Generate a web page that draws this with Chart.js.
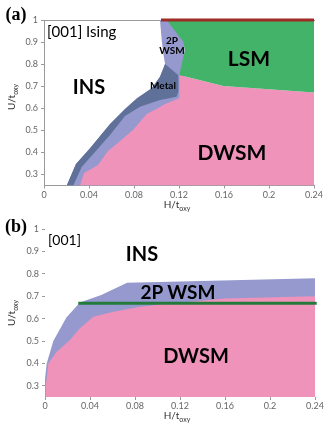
<!DOCTYPE html>
<html><head><meta charset="utf-8">
<script src="https://cdn.jsdelivr.net/npm/chart.js@4/dist/chart.umd.min.js"></script>
<style>
html,body{margin:0;padding:0;background:#fff;}
#wrap{position:relative;width:332px;height:425px;overflow:hidden;font-family:Lato,sans-serif;}
canvas{position:absolute;left:0;}
.lb{position:absolute;transform:translate(-50%,-50%);white-space:nowrap;color:#000;line-height:1;}
.lt{position:absolute;transform:translate(0,-50%);white-space:nowrap;color:#000;line-height:1;}
.b{font-weight:700;}
.pan{font-family:'Liberation Serif',serif;font-weight:700;font-size:18px;}
.ax{font-size:10px;color:#333;}
.ax sub{font-size:7px;vertical-align:-3px;}
.rot{transform:translate(-50%,-50%) rotate(-90deg);}
</style></head>
<body><div id="wrap">
<canvas id="cA" width="332" height="212" style="top:0"></canvas>
<canvas id="cB" width="332" height="213" style="top:212px"></canvas>

<div class="lb pan" style="left:16px;top:14px">(a)</div>
<div class="lt" style="left:47px;top:31px;font-size:15px">[001] Ising</div>
<div class="lb b" style="left:89px;top:86px;font-size:20px">INS</div>
<div class="lb b" style="left:249px;top:57px;font-size:21px">LSM</div>
<div class="lb b" style="left:232px;top:151px;font-size:21px">DWSM</div>
<div class="lb b" style="left:172px;top:45px;font-size:10px;text-align:center">2P<br>WSM</div>
<div class="lb b" style="left:163px;top:85px;font-size:10px">Metal</div>
<div class="lb ax rot" style="left:12px;top:97px">U/t<sub>oxy</sub></div>
<div class="lb ax" style="left:177px;top:205px">H/t<sub>oxy</sub></div>

<div class="lb pan" style="left:16px;top:226px">(b)</div>
<div class="lt" style="left:48px;top:240px;font-size:14px">[001]</div>
<div class="lb b" style="left:142px;top:253px;font-size:20px">INS</div>
<div class="lb b" style="left:178px;top:291px;font-size:19px">2P WSM</div>
<div class="lb b" style="left:196px;top:355px;font-size:20px">DWSM</div>
<div class="lb ax rot" style="left:12px;top:313px">U/t<sub>oxy</sub></div>
<div class="lb ax" style="left:177px;top:416px">H/t<sub>oxy</sub></div>
</div>
<script>
// phase diagram, two panels. polygons are [H, U] pairs
const xTicks=[0,0.04,0.08,0.12,0.16,0.2,0.24];
const yTicks=[0.3,0.4,0.5,0.6,0.7,0.8,0.9,1];

// (a) [001] Ising
const outerA=[[0.0202,0.25],[0.0284,0.3475],[0.0409,0.4187],[0.0587,0.5288],[0.072,0.5967],[0.0827,0.6452],
  [0.0957,0.6905],[0.1031,0.7431],[0.1076,0.8006],[0.106,0.8491],[0.1046,0.9094],[0.1031,1.0]];
const lavCapA=[[0.125,1.0],[0.125,0.25]];
const metalEdgeA=[[0.1194,0.75],[0.1194,0.675]];
const metalInnerA=[[0.118,0.6525],[0.1031,0.6375],[0.0853,0.607],[0.072,0.565],[0.0587,0.479],
  [0.0453,0.402],[0.0335,0.334],[0.026,0.25]];
const dwsmA=[[0.032,0.25],[0.0356,0.3068],[0.048,0.343],[0.0569,0.4064],[0.0676,0.4518],[0.0791,0.5016],
  [0.0913,0.574],[0.1031,0.606],[0.1076,0.619],[0.1203,0.645],[0.1203,0.751],[0.1594,0.701],[0.24,0.671],[0.24,0.25]];
const lsmA=[[0.109,1.0],[0.1238,0.902],[0.1253,0.864],[0.1209,0.766],[0.1203,0.751],[0.1594,0.701],[0.24,0.671],[0.24,1.0]];
const topLineA=[[0.104,1.0],[0.24,1.0]];

// (b) [001]
const wsmB=[[0,0.25],[0,0.33],[0.0015,0.40],[0.0074,0.50],[0.019,0.605],[0.031,0.672],[0.05,0.705],
  [0.073,0.76],[0.111,0.765],[0.24,0.78],[0.24,0.25]];
const dwsmB=[[0,0.25],[0.0007,0.30],[0.003,0.40],[0.0104,0.452],[0.0222,0.504],[0.031,0.557],[0.043,0.608],
  [0.0607,0.631],[0.0844,0.653],[0.1076,0.665],[0.16,0.69],[0.24,0.70],[0.24,0.25]];
const lineB=[[0.0296,0.668],[0.2415,0.668]];

const PINK='#EF93BB', LAV='#9599CD', DARK='#5F7199', GREEN='#44B36A', RED='#9E2B25', GLINE='#247A3B',
      TICK='#666', BOX='#9a9a9a';

const xy=pts=>pts.map(p=>({x:p[0],y:p[1]}));
const region=(c,pts)=>({data:xy(pts),backgroundColor:c,borderColor:c,borderWidth:0,pointRadius:0,fill:'shape',tension:0});
const bar=(c,pts,w)=>({data:xy(pts),borderColor:c,borderWidth:w,pointRadius:0,fill:false,clip:false,tension:0});
const fmt=v=>String(+(+v).toFixed(2));

function axes(boxed,yw,xh){
  const tk={color:TICK,font:{family:'Lato',size:9},autoSkip:false,maxRotation:0,padding:3,callback:fmt};
  const tx=Object.assign({},tk,{padding:1});
  const gr={display:true,drawOnChartArea:false,drawTicks:true,tickLength:3,color:BOX};
  const s={
    x:{type:'linear',min:0,max:0.24,ticks:tx,grid:gr,border:{display:boxed,color:BOX},
       afterBuildTicks:a=>{a.ticks=xTicks.map(v=>({value:v}));},afterFit:a=>{a.height=xh;}},
    y:{type:'linear',min:0.25,max:1,ticks:tk,grid:gr,border:{display:boxed,color:BOX},
       afterBuildTicks:a=>{a.ticks=yTicks.map(v=>({value:v}));},afterFit:a=>{a.width=yw;}}
  };
  if(boxed) s.x2={type:'linear',position:'top',min:0,max:0.24,ticks:{display:false},grid:{display:false},
       border:{display:true,color:BOX},afterFit:a=>{a.height=0;}};
  return s;
}
const common={responsive:false,animation:false,plugins:{legend:{display:false},tooltip:{enabled:false}}};

new Chart(document.getElementById('cA'),{type:'line',
  data:{datasets:[
    bar(RED,topLineA,3),
    region(GREEN,lsmA),
    region(PINK,dwsmA),
    region(DARK,outerA.slice(0,9).concat(metalEdgeA,metalInnerA)),
    region(LAV,outerA.concat(lavCapA))
  ]},
  options:Object.assign({},common,{layout:{padding:{top:20,right:18,left:0,bottom:0}},scales:axes(true,44,26.5)})
});

new Chart(document.getElementById('cB'),{type:'line',
  data:{datasets:[
    bar(GLINE,lineB,3),
    region(PINK,dwsmB),
    region(LAV,wsmB)
  ]},
  options:Object.assign({},common,{layout:{padding:{top:17,right:17,left:0,bottom:0}},scales:axes(false,45,28)})
});
</script>
</body></html>
